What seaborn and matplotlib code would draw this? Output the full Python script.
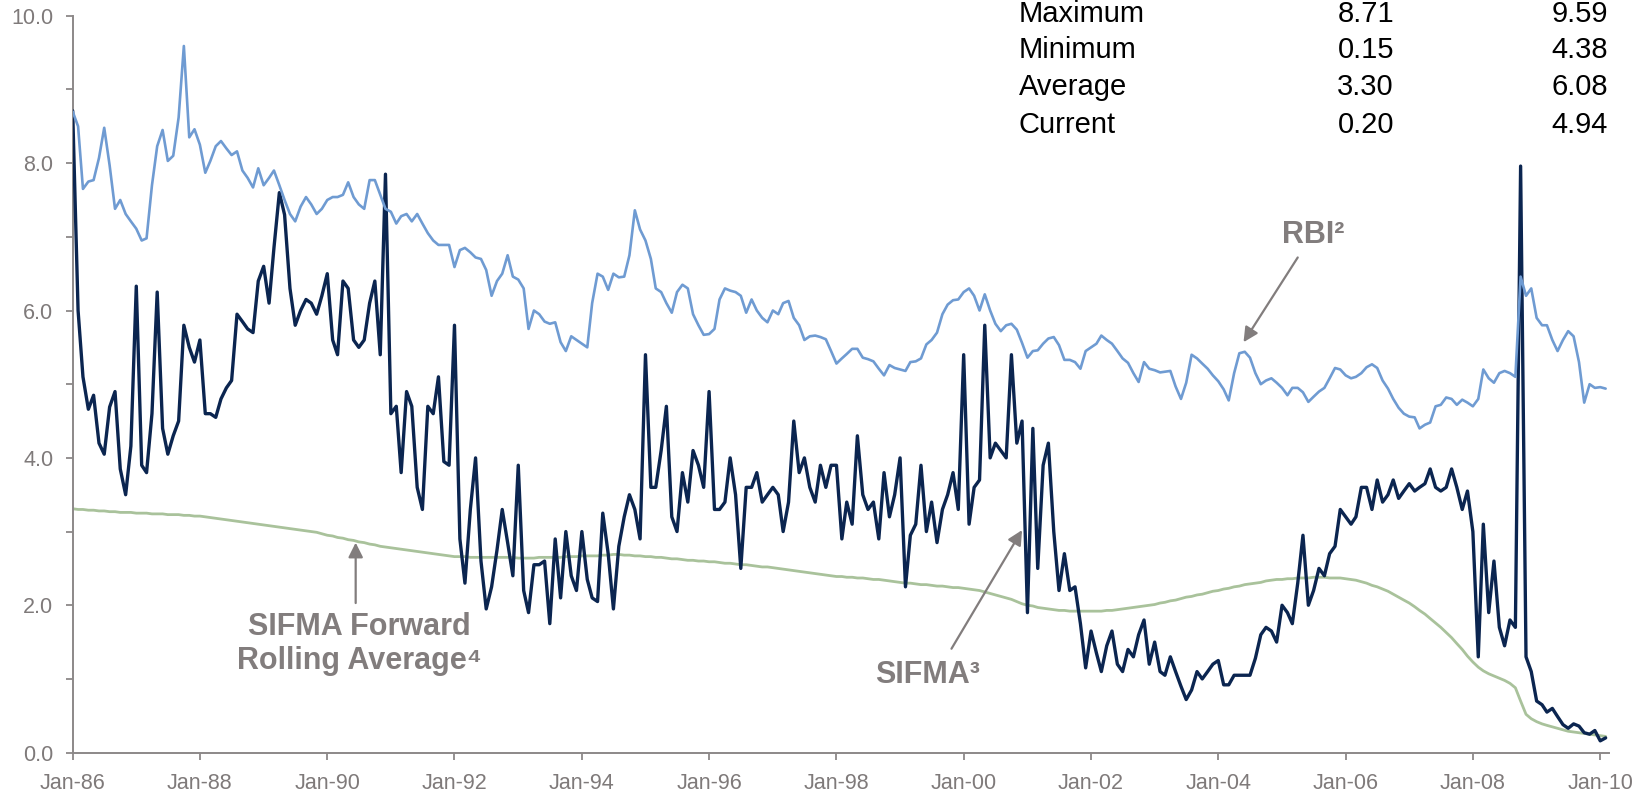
import numpy as np
import pandas as pd
import matplotlib
matplotlib.use("Agg")
import matplotlib.pyplot as plt
import matplotlib.ticker as mticker
import seaborn as sns

# ---------------- data (monthly readings, Jan-1986 .. Feb-2010) ----------------
start_month = "1986-01-01"

rbi = [
    8.70, 8.50, 7.65, 7.75, 7.77, 8.07, 8.48, 7.97, 7.38, 7.50, 7.31, 7.21,
    7.11, 6.95, 6.98, 7.70, 8.23, 8.45, 8.03, 8.10, 8.62, 9.59, 8.35, 8.46,
    8.25, 7.87, 8.03, 8.23, 8.30, 8.20, 8.11, 8.16, 7.90, 7.80, 7.67, 7.93,
    7.70, 7.80, 7.90, 7.70, 7.50, 7.31, 7.21, 7.41, 7.54, 7.44, 7.31, 7.38,
    7.50, 7.54, 7.54, 7.57, 7.74, 7.54, 7.44, 7.38, 7.77, 7.77, 7.57, 7.38,
    7.34, 7.18, 7.28, 7.31, 7.21, 7.31, 7.18, 7.05, 6.95, 6.89, 6.89, 6.89,
    6.59, 6.82, 6.85, 6.79, 6.72, 6.70, 6.55, 6.20, 6.40, 6.50, 6.75, 6.46,
    6.42, 6.30, 5.75, 6.00, 5.95, 5.85, 5.82, 5.84, 5.57, 5.45, 5.65, 5.60,
    5.55, 5.50, 6.10, 6.50, 6.46, 6.28, 6.50, 6.45, 6.46, 6.75, 7.36, 7.10,
    6.95, 6.70, 6.30, 6.25, 6.10, 5.97, 6.25, 6.35, 6.30, 5.95, 5.80, 5.67,
    5.68, 5.75, 6.15, 6.30, 6.27, 6.25, 6.20, 5.97, 6.15, 6.00, 5.90, 5.84,
    6.00, 5.95, 6.10, 6.13, 5.90, 5.80, 5.60, 5.65, 5.66, 5.64, 5.61, 5.45,
    5.28, 5.35, 5.41, 5.48, 5.48, 5.36, 5.34, 5.31, 5.21, 5.12, 5.26, 5.22,
    5.20, 5.18, 5.30, 5.31, 5.35, 5.54, 5.60, 5.70, 5.95, 6.08, 6.14, 6.15,
    6.25, 6.30, 6.20, 6.00, 6.22, 6.00, 5.82, 5.72, 5.80, 5.82, 5.74, 5.56,
    5.36, 5.45, 5.46, 5.55, 5.62, 5.64, 5.53, 5.33, 5.33, 5.30, 5.21, 5.45,
    5.50, 5.55, 5.66, 5.60, 5.55, 5.45, 5.35, 5.29, 5.15, 5.03, 5.30, 5.21,
    5.19, 5.16, 5.17, 5.18, 4.97, 4.80, 5.02, 5.40, 5.35, 5.28, 5.21, 5.12,
    5.04, 4.93, 4.78, 5.15, 5.42, 5.44, 5.36, 5.15, 5.00, 5.05, 5.08, 5.02,
    4.95, 4.85, 4.95, 4.95, 4.89, 4.76, 4.83, 4.90, 4.95, 5.08, 5.22, 5.20,
    5.12, 5.08, 5.10, 5.15, 5.23, 5.27, 5.22, 5.05, 4.94, 4.80, 4.68, 4.60,
    4.56, 4.55, 4.40, 4.45, 4.48, 4.70, 4.72, 4.82, 4.80, 4.72, 4.79, 4.75,
    4.70, 4.80, 5.20, 5.08, 5.02, 5.15, 5.18, 5.15, 5.10, 6.46, 6.20, 6.30,
    5.90, 5.80, 5.80, 5.60, 5.45, 5.60, 5.72, 5.65, 5.30, 4.75, 5.00, 4.95,
    4.96, 4.94,
]

sifma = [
    8.71, 6.00, 5.10, 4.66, 4.85, 4.20, 4.05, 4.69, 4.90, 3.85, 3.50, 4.16,
    6.33, 3.90, 3.80, 4.60, 6.25, 4.40, 4.05, 4.30, 4.50, 5.80, 5.50, 5.30,
    5.60, 4.60, 4.60, 4.55, 4.80, 4.95, 5.05, 5.95, 5.85, 5.75, 5.70, 6.40,
    6.60, 6.10, 6.85, 7.60, 7.30, 6.30, 5.80, 6.00, 6.15, 6.10, 5.95, 6.20,
    6.50, 5.60, 5.40, 6.40, 6.30, 5.60, 5.50, 5.60, 6.10, 6.40, 5.40, 7.85,
    4.60, 4.70, 3.80, 4.90, 4.70, 3.60, 3.30, 4.70, 4.60, 5.10, 3.95, 3.90,
    5.80, 2.90, 2.30, 3.30, 4.00, 2.60, 1.95, 2.25, 2.75, 3.30, 2.85, 2.40,
    3.90, 2.20, 1.90, 2.55, 2.55, 2.60, 1.75, 2.90, 2.10, 3.00, 2.40, 2.20,
    3.00, 2.35, 2.10, 2.05, 3.25, 2.70, 1.95, 2.80, 3.20, 3.50, 3.30, 2.90,
    5.40, 3.60, 3.60, 4.10, 4.70, 3.20, 3.00, 3.80, 3.40, 4.10, 3.90, 3.60,
    4.90, 3.30, 3.30, 3.40, 4.00, 3.50, 2.50, 3.60, 3.60, 3.80, 3.40, 3.50,
    3.60, 3.50, 3.00, 3.40, 4.50, 3.80, 4.00, 3.60, 3.40, 3.90, 3.60, 3.90,
    3.90, 2.90, 3.40, 3.10, 4.30, 3.50, 3.30, 3.40, 2.90, 3.80, 3.20, 3.50,
    4.00, 2.25, 2.95, 3.10, 3.90, 3.00, 3.40, 2.85, 3.30, 3.50, 3.80, 3.30,
    5.40, 3.10, 3.60, 3.70, 5.80, 4.00, 4.20, 4.10, 4.00, 5.40, 4.20, 4.50,
    1.90, 4.40, 2.50, 3.90, 4.20, 3.00, 2.20, 2.70, 2.20, 2.25, 1.75, 1.15,
    1.65, 1.35, 1.10, 1.45, 1.65, 1.20, 1.10, 1.40, 1.30, 1.60, 1.80, 1.20,
    1.50, 1.10, 1.05, 1.30, 1.10, 0.90, 0.72, 0.85, 1.10, 1.00, 1.10, 1.20,
    1.25, 0.92, 0.92, 1.05, 1.05, 1.05, 1.05, 1.28, 1.60, 1.70, 1.65, 1.50,
    2.00, 1.90, 1.75, 2.30, 2.95, 2.00, 2.20, 2.50, 2.40, 2.70, 2.80, 3.30,
    3.20, 3.10, 3.20, 3.60, 3.60, 3.30, 3.70, 3.40, 3.50, 3.70, 3.45, 3.55,
    3.65, 3.55, 3.60, 3.65, 3.85, 3.60, 3.55, 3.60, 3.85, 3.60, 3.30, 3.55,
    3.00, 1.30, 3.10, 1.90, 2.60, 1.70, 1.45, 1.80, 1.70, 7.96, 1.30, 1.10,
    0.70, 0.65, 0.55, 0.60, 0.49, 0.38, 0.33, 0.39, 0.36, 0.27, 0.25, 0.30,
    0.16, 0.20,
]

fwd_avg = [
    3.31, 3.30, 3.30, 3.29, 3.29, 3.28, 3.28, 3.27, 3.27, 3.26, 3.26, 3.26,
    3.25, 3.25, 3.25, 3.24, 3.24, 3.24, 3.23, 3.23, 3.23, 3.22, 3.22, 3.21,
    3.21, 3.20, 3.19, 3.18, 3.17, 3.16, 3.15, 3.14, 3.13, 3.12, 3.11, 3.10,
    3.09, 3.08, 3.07, 3.06, 3.05, 3.04, 3.03, 3.02, 3.01, 3.00, 2.99, 2.97,
    2.95, 2.94, 2.92, 2.91, 2.89, 2.88, 2.86, 2.85, 2.83, 2.82, 2.80, 2.79,
    2.78, 2.77, 2.76, 2.75, 2.74, 2.73, 2.72, 2.71, 2.70, 2.69, 2.68, 2.67,
    2.66, 2.66, 2.66, 2.65, 2.65, 2.65, 2.65, 2.65, 2.65, 2.65, 2.65, 2.65,
    2.64, 2.64, 2.64, 2.64, 2.65, 2.65, 2.65, 2.65, 2.65, 2.66, 2.66, 2.66,
    2.67, 2.67, 2.67, 2.67, 2.68, 2.68, 2.69, 2.69, 2.68, 2.68, 2.67, 2.67,
    2.66, 2.66, 2.65, 2.65, 2.64, 2.63, 2.63, 2.62, 2.61, 2.61, 2.60, 2.60,
    2.59, 2.59, 2.58, 2.57, 2.57, 2.56, 2.55, 2.55, 2.54, 2.53, 2.52, 2.52,
    2.51, 2.50, 2.49, 2.48, 2.47, 2.46, 2.45, 2.44, 2.43, 2.42, 2.41, 2.40,
    2.39, 2.39, 2.38, 2.38, 2.37, 2.37, 2.36, 2.35, 2.35, 2.34, 2.33, 2.32,
    2.31, 2.30, 2.30, 2.29, 2.28, 2.28, 2.27, 2.26, 2.26, 2.25, 2.24, 2.24,
    2.23, 2.22, 2.21, 2.20, 2.18, 2.16, 2.14, 2.12, 2.10, 2.08, 2.05, 2.02,
    2.00, 1.99, 1.97, 1.96, 1.95, 1.94, 1.93, 1.93, 1.92, 1.92, 1.92, 1.92,
    1.92, 1.92, 1.92, 1.93, 1.93, 1.94, 1.95, 1.96, 1.97, 1.98, 1.99, 2.00,
    2.01, 2.03, 2.04, 2.06, 2.07, 2.09, 2.11, 2.12, 2.14, 2.15, 2.17, 2.19,
    2.20, 2.22, 2.23, 2.25, 2.26, 2.28, 2.29, 2.30, 2.31, 2.33, 2.34, 2.35,
    2.35, 2.36, 2.36, 2.37, 2.37, 2.37, 2.38, 2.38, 2.38, 2.37, 2.37, 2.37,
    2.36, 2.35, 2.34, 2.32, 2.30, 2.27, 2.25, 2.22, 2.19, 2.15, 2.11, 2.07,
    2.03, 1.98, 1.93, 1.88, 1.82, 1.76, 1.70, 1.63, 1.56, 1.48, 1.40, 1.31,
    1.23, 1.16, 1.11, 1.07, 1.04, 1.01, 0.98, 0.94, 0.88, 0.70, 0.52, 0.46,
    0.42, 0.39, 0.37, 0.35, 0.33, 0.31, 0.29, 0.28, 0.27, 0.26, 0.25, 0.24,
    0.23, 0.22,
]

stat_labels = ["Maximum", "Minimum", "Average", "Current"]
stat_sifma = ["8.71", "0.15", "3.30", "0.20"]
stat_rbi = ["9.59", "4.38", "6.08", "4.94"]

y_ticks = [0, 2, 4, 6, 8, 10]
x_tick_years = list(range(1986, 2011, 2))

# ---------------- styling ----------------
C_SIFMA = "#0b2550"
C_RBI = "#6f9bd2"
C_FWD = "#a9c29b"
C_AXIS = "#8c8888"
C_TICKTXT = "#7f7a7a"
C_ANN = "#827d7d"

sns.set_style("white")
plt.rcParams["font.family"] = ["Liberation Sans", "DejaVu Sans"]

dates = pd.date_range(start_month, periods=len(rbi), freq="MS")
df = pd.DataFrame({"date": dates, "RBI": rbi, "SIFMA": sifma, "FWD": fwd_avg})

fig = plt.figure(figsize=(16.48, 8.01), dpi=100)
ax = fig.add_axes([0.0441, 0.0604, 0.9320, 0.9199])

sns.lineplot(data=df, x="date", y="FWD", ax=ax, color=C_FWD, linewidth=2.0, zorder=2)
sns.lineplot(data=df, x="date", y="SIFMA", ax=ax, color=C_SIFMA, linewidth=2.4, zorder=3)
sns.lineplot(data=df, x="date", y="RBI", ax=ax, color=C_RBI, linewidth=1.9, zorder=4)

ax.set_xlim(pd.Timestamp("1986-01-01"), pd.Timestamp("2010-02-18"))
ax.set_ylim(0, 10)
ax.set_xlabel("")
ax.set_ylabel("")

ax.set_yticks(y_ticks)
ax.yaxis.set_major_formatter(mticker.FormatStrFormatter("%.1f"))
ax.yaxis.set_minor_locator(mticker.MultipleLocator(1))
xt = [pd.Timestamp(f"{y}-01-01") for y in x_tick_years]
ax.set_xticks(xt)
ax.set_xticklabels([f"Jan-{str(y)[-2:]}" for y in x_tick_years])

for s in ["top", "right"]:
    ax.spines[s].set_visible(False)
for s in ["left", "bottom"]:
    ax.spines[s].set_color(C_AXIS)
    ax.spines[s].set_linewidth(1.4)

ax.tick_params(axis="both", which="both", direction="out", length=5, width=1.3,
               color=C_AXIS, labelcolor=C_TICKTXT, labelsize=15.5,
               bottom=True, left=True)
ax.tick_params(axis="x", pad=10)
ax.tick_params(axis="y", pad=9)

# ---------------- stats table (baselines in figure pixels from top) ----------------
row_base = [22.0, 58.0, 94.8, 132.6]
for lab, s1, s2, yy in zip(stat_labels, stat_sifma, stat_rbi, row_base):
    fy = 1 - yy / 801
    fig.text(1019 / 1648, fy, lab, fontsize=21, ha="left", va="baseline", color="black")
    fig.text(1394 / 1648, fy, s1, fontsize=21, ha="right", va="baseline", color="black")
    fig.text(1608 / 1648, fy, s2, fontsize=21, ha="right", va="baseline", color="black")

# ---------------- annotations ----------------
afont = dict(fontsize=22, fontweight="bold", color=C_ANN, ha="center", va="center",
             family=["Liberation Sans", "DejaVu Sans"])
arrow = dict(arrowstyle="-|>", color=C_ANN, lw=1.6, mutation_scale=22, shrinkA=0, shrinkB=0)

ax.text(pd.Timestamp("2005-07-01"), 7.02, "RBI²", **afont)
ax.annotate("", xy=(pd.Timestamp("2004-05-25"), 5.57),
            xytext=(pd.Timestamp("2005-04-01"), 6.72), arrowprops=arrow)

ax.text(pd.Timestamp("1990-07-05"), 1.71, "SIFMA Forward", **afont)
ax.text(pd.Timestamp("1990-07-05"), 1.25, "Rolling Average⁴", **afont)
ax.annotate("", xy=(pd.Timestamp("1990-06-13"), 2.85),
            xytext=(pd.Timestamp("1990-06-13"), 2.03), arrowprops=arrow)

ax.text(pd.Timestamp("1999-06-10"), 1.05, "SIFMA³", **afont)
ax.annotate("", xy=(pd.Timestamp("2000-12-01"), 3.02),
            xytext=(pd.Timestamp("1999-10-23"), 1.41), arrowprops=arrow)

fig.savefig("out.png", dpi=100)
